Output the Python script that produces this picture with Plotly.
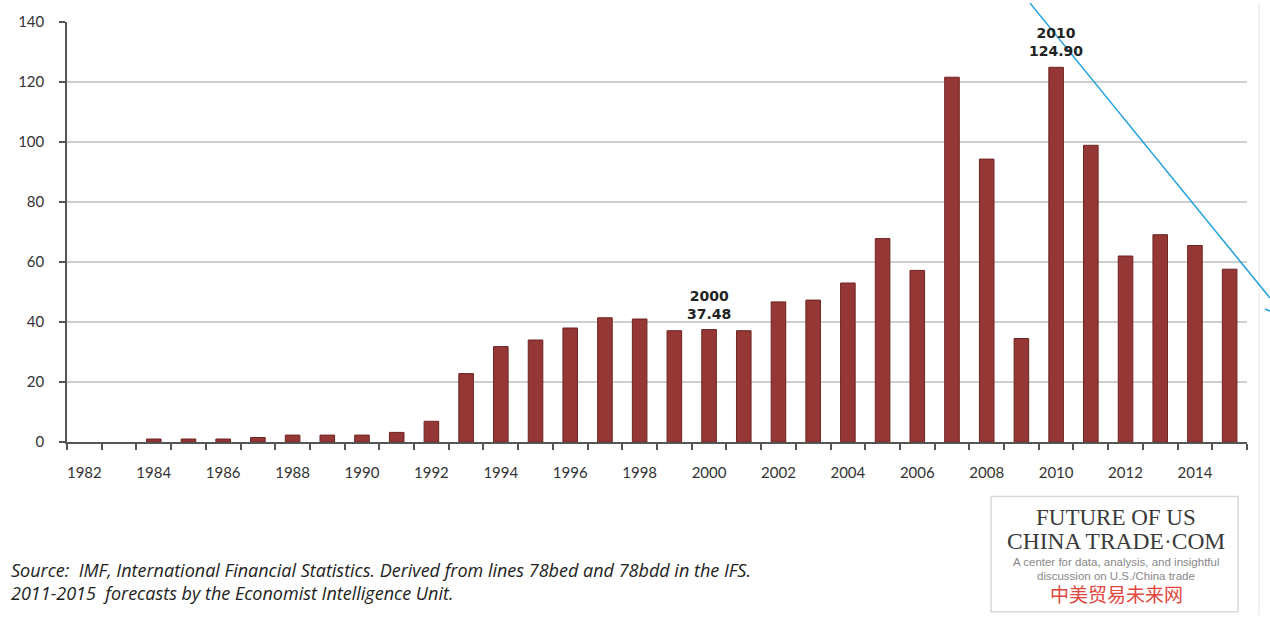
import plotly.graph_objects as go

years = list(range(1982, 2016))
values = [0, 0, 1.0, 1.0, 1.0, 1.5, 2.3, 2.3, 2.3, 3.2, 6.9, 22.8, 31.8, 34.0, 38.0,
          41.4, 41.0, 37.1, 37.48, 37.1, 46.7, 47.3, 53.0, 67.8, 57.2, 121.6, 94.3,
          34.5, 124.90, 98.9, 62.0, 69.1, 65.5, 57.6]
tick_years = list(range(1982, 2016, 2))
y_ticks = list(range(0, 141, 20))
highlight = {2000: "37.48", 2010: "124.90"}

BAR = "#953735"
font_main = "Lato, 'Open Sans', sans-serif"

fig = go.Figure()
fig.add_trace(go.Bar(
    x=years, y=values, width=0.42,
    marker=dict(color=BAR, line=dict(color="#6e2422",
                                     width=[1 if v > 0 else 0 for v in values])),
    hoverinfo="x+y", showlegend=False,
))

boundaries = [y - 0.5 for y in years] + [years[-1] + 0.5]

fig.update_xaxes(
    range=[years[0] - 0.5, years[-1] + 0.5],
    tickmode="array", tickvals=tick_years, ticktext=[str(t) for t in tick_years],
    ticks="", showgrid=False, zeroline=False,
    showline=True, linecolor="#555555", linewidth=1.5,
    tickfont=dict(family=font_main, size=15, color="#333333"),
    ticklabelstandoff=16,
    minor=dict(tickmode="array", tickvals=boundaries, ticks="outside",
               ticklen=6, tickcolor="#555555", tickwidth=1.5, showgrid=False),
)
fig.update_yaxes(
    range=[0, 140], tickmode="array", tickvals=y_ticks,
    ticks="outside", ticklen=6, tickcolor="#555555", tickwidth=1.5,
    showgrid=True, gridcolor="#cfcfcf", gridwidth=1.5, zeroline=False,
    showline=True, linecolor="#555555", linewidth=1.5,
    tickfont=dict(family=font_main, size=15, color="#333333"),
    ticklabelstandoff=12,
)

for yr, txt in highlight.items():
    v = values[years.index(yr)]
    fig.add_annotation(x=yr, y=v, yref="y", xref="x",
                       text=f"<b>{yr}</b><br><b>{txt}</b>", showarrow=False,
                       yanchor="bottom", yshift=6,
                       font=dict(family="'DejaVu Sans', sans-serif", size=14, color="#222222"))

# source text
fig.add_annotation(xref="paper", yref="paper", x=-0.049, y=-0.305, xanchor="left", yanchor="middle",
                   text="<i>Source:  IMF, International Financial Statistics. Derived from lines 78bed and 78bdd in the IFS.</i>",
                   showarrow=False, font=dict(family="'Open Sans', sans-serif", size=18, color="#222222"))
fig.add_annotation(xref="paper", yref="paper", x=-0.049, y=-0.36, xanchor="left", yanchor="middle",
                   text="<i>2011-2015  forecasts by the Economist Intelligence Unit.</i>",
                   showarrow=False, font=dict(family="'Open Sans', sans-serif", size=18, color="#222222"))

# logo box (pixel-ish positions via paper coords)
W, H = 1270, 617
L, R, T, B = 67, 23, 19, 175
pw, ph = W - L - R, H - T - B
def px(x): return (x - L) / pw
def py(y): return (H - B - y) / ph

fig.add_shape(type="rect", xref="paper", yref="paper",
              x0=px(991), x1=px(1238), y0=py(613), y1=py(497),
              line=dict(color="#d8d8d8", width=1.5), fillcolor="white", layer="above")
logo_texts = [
    ("FUTURE OF US", 518, 23, "#3a3a3a", "'Liberation Serif', serif"),
    ("CHINA TRADE·COM", 542, 23.5, "#3a3a3a", "'Liberation Serif', serif"),
    ("A center for data, analysis, and insightful", 563, 11.5, "#888888", "'Liberation Sans', sans-serif"),
    ("discussion on U.S./China trade", 577, 11.5, "#888888", "'Liberation Sans', sans-serif"),
    ("中美贸易未来网", 595, 19, "#e0463c", "'Noto Sans CJK SC', sans-serif"),
]
for txt, yy, sz, col, fam in logo_texts:
    fig.add_annotation(xref="paper", yref="paper", x=px(1116), y=py(yy),
                       text=txt, showarrow=False, xanchor="center", yanchor="middle",
                       font=dict(family=fam, size=sz, color=col))

# faint right border line and blue diagonal stroke
fig.add_shape(type="line", xref="paper", yref="paper", x0=px(1259), x1=px(1259), y0=py(0), y1=py(617),
              line=dict(color="#e6e6e6", width=1))
fig.add_shape(type="line", xref="paper", yref="paper", x0=px(1030), y0=py(0), x1=px(1270), y1=py(297),
              line=dict(color="#1ea0dc", width=1.5))
fig.add_shape(type="line", xref="paper", yref="paper", x0=px(1265), y0=py(308), x1=px(1270), y1=py(310),
              line=dict(color="#1ea0dc", width=1.5))

fig.update_layout(
    width=W, height=H, margin=dict(l=L, r=R, t=T, b=B),
    paper_bgcolor="white", plot_bgcolor="white", bargap=0.58,
)

fig.write_html("out.html")
